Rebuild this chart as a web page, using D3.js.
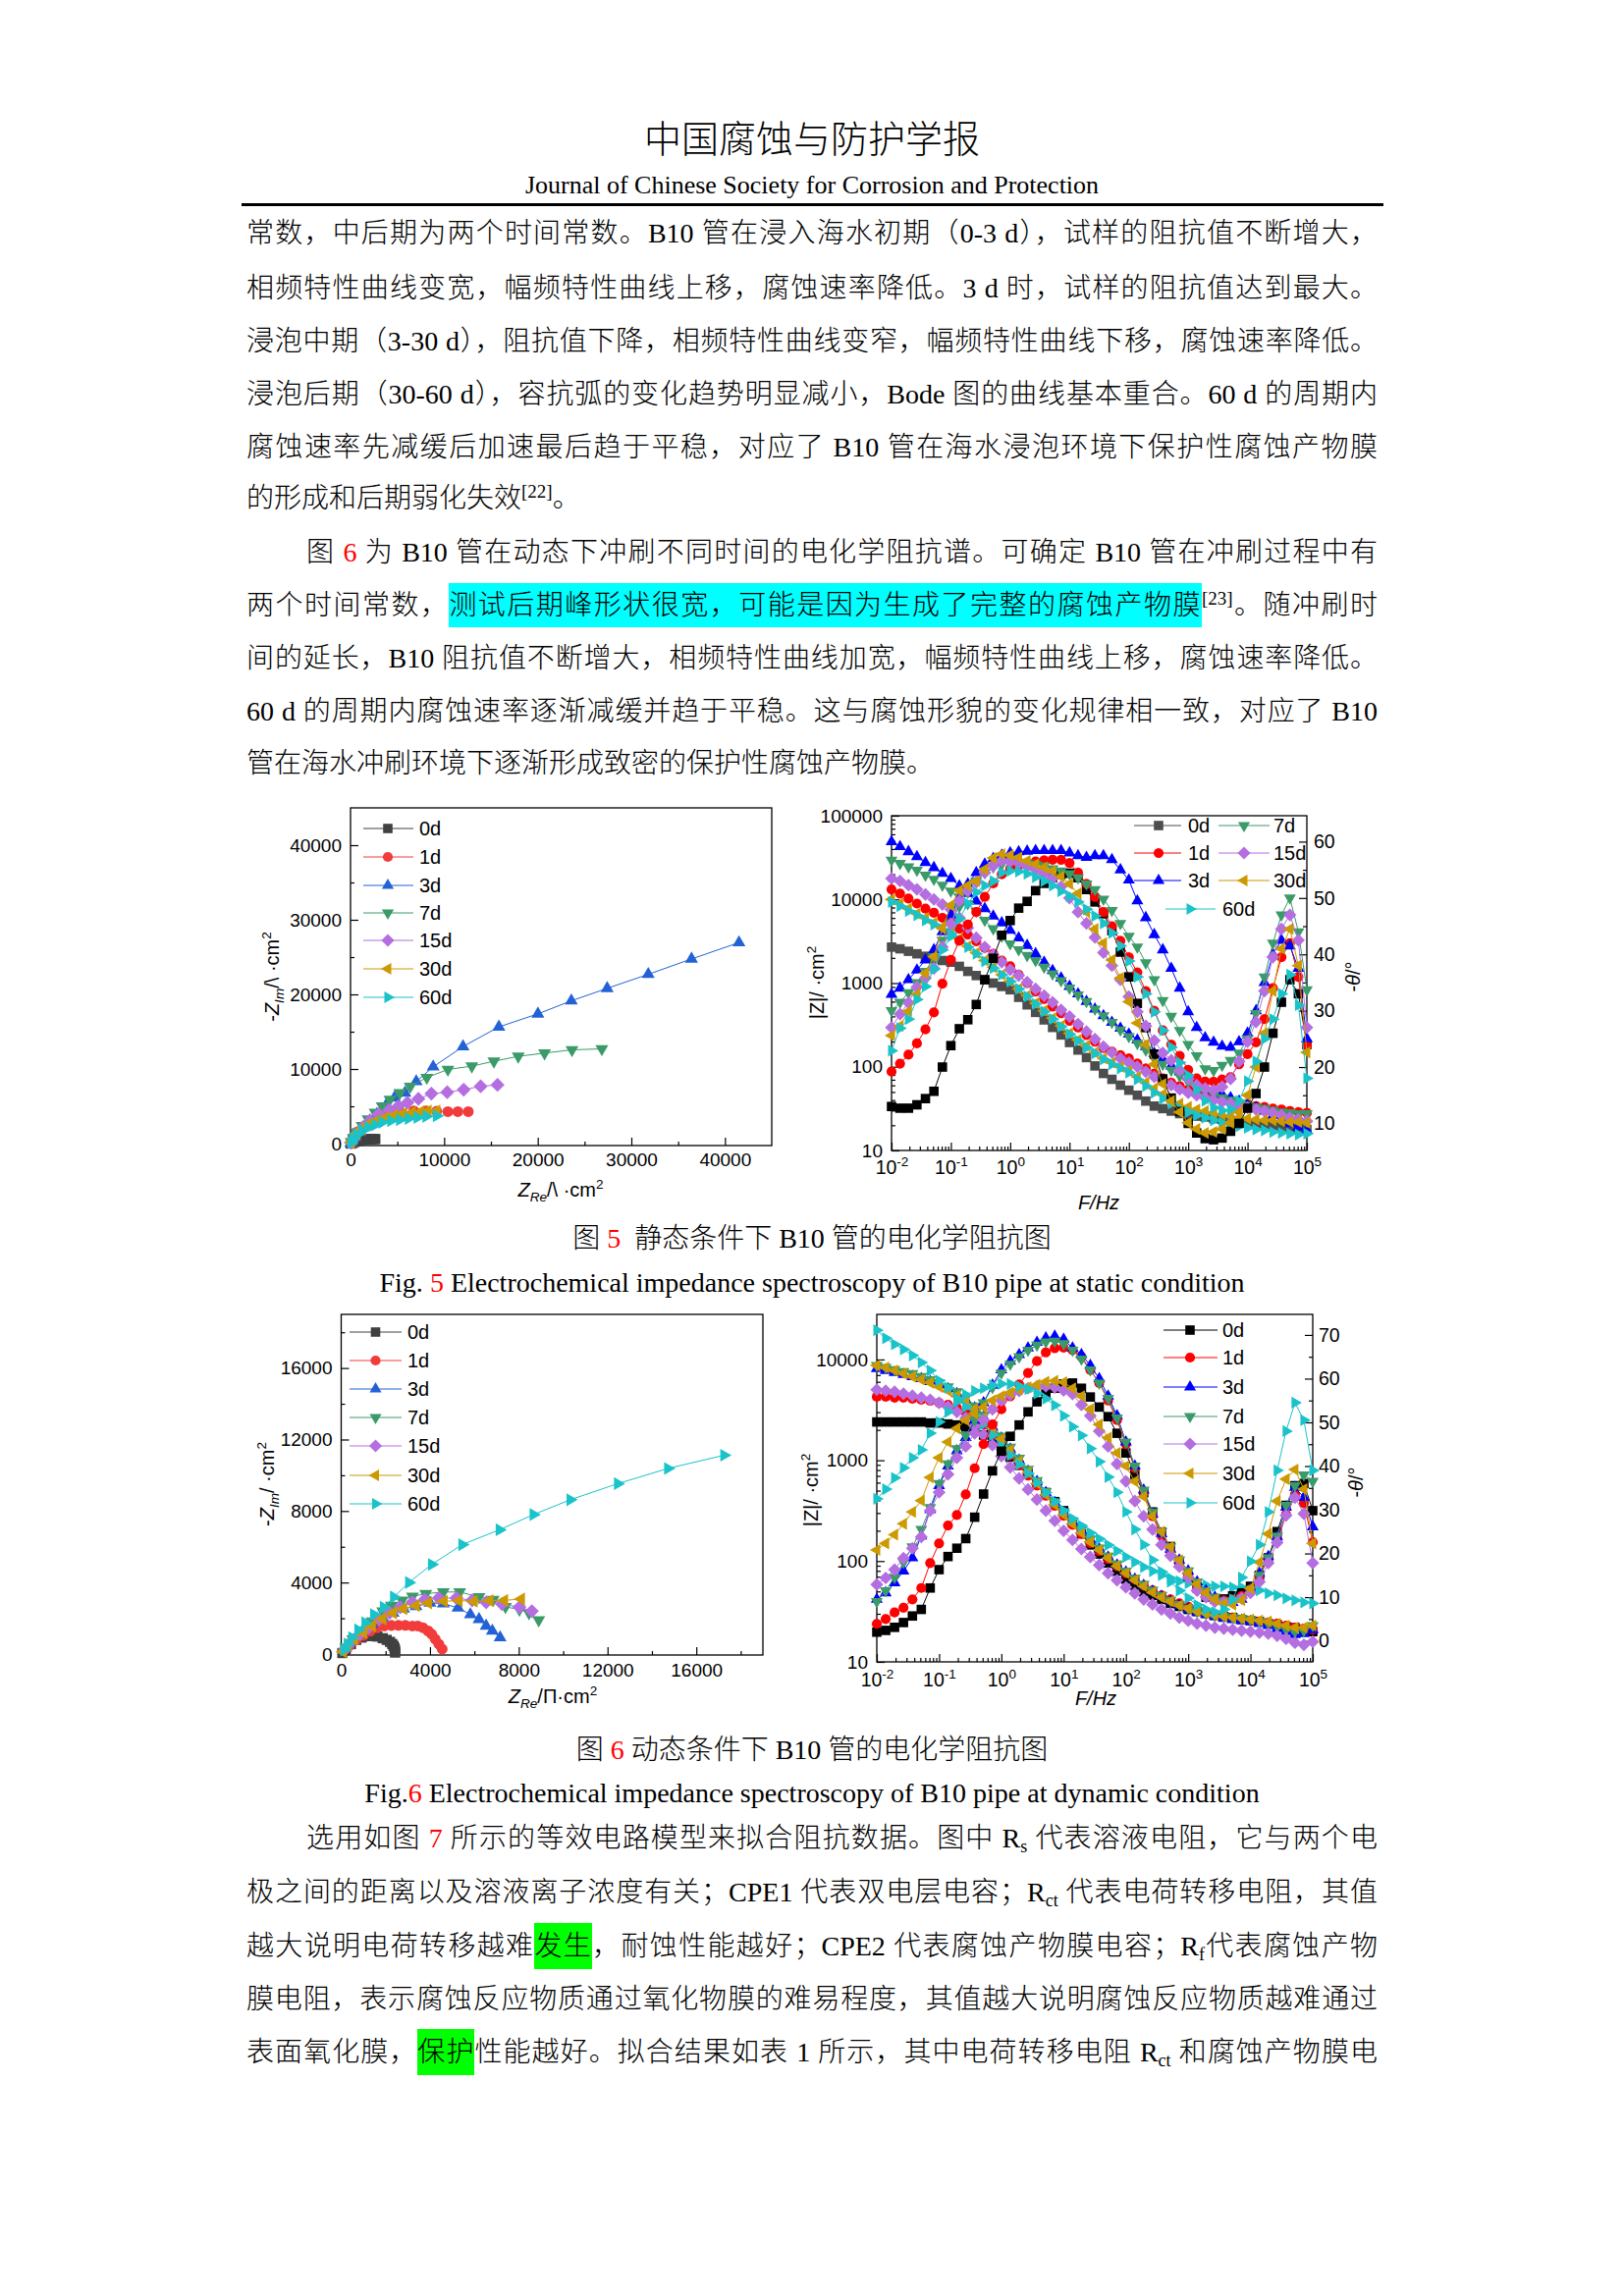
<!DOCTYPE html>
<html>
<head>
<meta charset="utf-8">
<script src="https://cdn.jsdelivr.net/npm/d3@7/dist/d3.min.js"></script>
<style>
  html, body { margin: 0; padding: 0; background: #fff; }
  #page { position: relative; width: 1654px; height: 2339px; overflow: hidden; background: #fff; }
  #page svg { position: absolute; left: 0; top: 0; }
  .ln { position: absolute; left: 251px; width: 1152px; height: 40px; line-height: 40px;
        font-size: 28px; font-family: "Liberation Serif", "Noto Sans CJK SC", serif; font-weight: 300;
        color: #000; text-align: justify; text-align-last: justify; }
  .ln.ind { left: 312px; width: 1091px; }
  .ln.last { text-align-last: left; }
  .cap { position: absolute; left: 0; width: 1654px; height: 40px; line-height: 40px; text-align: center;
         font-size: 28px; font-family: "Liberation Serif", "Noto Sans CJK SC", serif; font-weight: 300; color: #000; }
  .red { color: #ff0000; }
  .cy { background: #00ffff; padding: 7px 0; }
  .gr { background: #00ff00; padding: 8px 0; }
  sup { font-size: 19px; line-height: 0; vertical-align: 10px; }
  sub { font-size: 18px; line-height: 0; vertical-align: -5px; }
</style>
</head>
<body>
<div id="page">
  <div class="cap" style="top:118px;height:48px;line-height:48px;font-size:38px;">中国腐蚀与防护学报</div>
  <div class="cap" style="top:172px;height:34px;line-height:34px;font-size:26px;">Journal of Chinese Society for Corrosion and Protection</div>
  <div style="position:absolute;left:246px;top:207px;width:1163px;height:3px;background:#000;"></div>

  <div class="ln" style="top:218px">常数，中后期为两个时间常数。B10 管在浸入海水初期（0-3 d），试样的阻抗值不断增大，</div>
  <div class="ln" style="top:274px">相频特性曲线变宽，幅频特性曲线上移，腐蚀速率降低。3 d 时，试样的阻抗值达到最大。</div>
  <div class="ln" style="top:328px">浸泡中期（3-30 d），阻抗值下降，相频特性曲线变窄，幅频特性曲线下移，腐蚀速率降低。</div>
  <div class="ln" style="top:382px">浸泡后期（30-60 d），容抗弧的变化趋势明显减小，Bode 图的曲线基本重合。60 d 的周期内</div>
  <div class="ln" style="top:436px">腐蚀速率先减缓后加速最后趋于平稳，对应了 B10 管在海水浸泡环境下保护性腐蚀产物膜</div>
  <div class="ln last" style="top:488px">的形成和后期弱化失效<sup>[22]</sup>。</div>

  <div class="ln ind" style="top:543px">图 <span class="red">6</span> 为 B10 管在动态下冲刷不同时间的电化学阻抗谱。可确定 B10 管在冲刷过程中有</div>
  <div class="ln" style="top:597px">两个时间常数，<span class="cy">测试后期峰形状很宽，可能是因为生成了完整的腐蚀产物膜</span><sup>[23]</sup>。随冲刷时</div>
  <div class="ln" style="top:651px">间的延长，B10 阻抗值不断增大，相频特性曲线加宽，幅频特性曲线上移，腐蚀速率降低。</div>
  <div class="ln" style="top:705px">60 d 的周期内腐蚀速率逐渐减缓并趋于平稳。这与腐蚀形貌的变化规律相一致，对应了 B10</div>
  <div class="ln last" style="top:758px">管在海水冲刷环境下逐渐形成致密的保护性腐蚀产物膜。</div>

  <div class="cap" style="top:1242px">图 <span class="red">5</span>&nbsp; 静态条件下 B10 管的电化学阻抗图</div>
  <div class="cap" style="top:1287px">Fig. <span class="red">5</span> Electrochemical impedance spectroscopy of B10 pipe at static condition</div>
  <div class="cap" style="top:1763px">图 <span class="red">6</span> 动态条件下 B10 管的电化学阻抗图</div>
  <div class="cap" style="top:1807px">Fig.<span class="red">6</span> Electrochemical impedance spectroscopy of B10 pipe at dynamic condition</div>

  <div class="ln ind" style="top:1853px">选用如图 <span class="red">7</span> 所示的等效电路模型来拟合阻抗数据。图中 R<sub>s</sub> 代表溶液电阻，它与两个电</div>
  <div class="ln" style="top:1908px">极之间的距离以及溶液离子浓度有关；CPE1 代表双电层电容；R<sub>ct</sub> 代表电荷转移电阻，其值</div>
  <div class="ln" style="top:1963px">越大说明电荷转移越难<span class="gr">发生</span>，耐蚀性能越好；CPE2 代表腐蚀产物膜电容；R<sub>f</sub>代表腐蚀产物</div>
  <div class="ln" style="top:2017px">膜电阻，表示腐蚀反应物质通过氧化物膜的难易程度，其值越大说明腐蚀反应物质越难通过</div>
  <div class="ln" style="top:2071px">表面氧化膜，<span class="gr">保护</span>性能越好。拟合结果如表 1 所示，其中电荷转移电阻 R<sub>ct</sub> 和腐蚀产物膜电</div>
</div>

<script>
// ---------- data ----------
const days = ["0d", "1d", "3d", "7d", "15d", "30d", "60d"];

// measurement frequencies (Hz), 7 per decade
const freq = [0.01, 0.0139, 0.0193, 0.0268, 0.0373, 0.0518, 0.072,
  0.1, 0.139, 0.193, 0.268, 0.373, 0.518, 0.72,
  1, 1.39, 1.93, 2.68, 3.73, 5.18, 7.2,
  10, 13.9, 19.3, 26.8, 37.3, 51.8, 72,
  100, 139, 193, 268, 373, 518, 720,
  1000, 1390, 1930, 2680, 3730, 5180, 7200,
  10000, 13900, 19300, 26800, 37300, 51800, 72000,
  100000];

// Fig.5 static: Nyquist points [Z_Re, -Z_Im] per series
const staticNyq = [
  [[20,5],[60,25],[130,70],[240,130],[400,210],[620,300],[880,390],[1150,470],[1420,530],[1700,575],[1980,600],[2250,612],[2480,612],[2650,608]],
  [[30,60],[75,300],[260,870],[680,1530],[1310,2190],[2070,2850],[2930,3370],[3940,3940],[5260,4250],[6760,4380],[8080,4380],[9200,4330],[10400,4290],[11460,4290],[12580,4290]],
  [[30,40],[75,130],[190,440],[450,880],[940,1530],[1500,2190],[2070,3070],[2820,3940],[3760,5040],[4690,6130],[5820,6790],[7020,8320],[8830,10290],[12020,13010],[15850,15640],[20020,17390],[23590,19140],[27420,20810],[31810,22690],[36430,24750],[41500,26940]],
  [[75,220],[300,745],[680,1530],[1240,2410],[1880,3290],[2630,4160],[3380,5040],[4210,5910],[5260,6790],[6380,7670],[8150,8850],[10400,9940],[12960,10380],[15320,11040],[17920,11700],[20730,12130],[23660,12570],[26850,12700]],
  [[60,120],[190,440],[680,1310],[1310,2190],[2070,3070],[3000,3940],[4130,4510],[5100,5000],[6080,5480],[7250,6000],[8640,6700],[10330,6880],[12090,7230],[13900,7670],[15700,7880]],
  [[75,130],[300,660],[680,1310],[1240,1970],[1950,2630],[2820,3070],[3760,3500],[4690,3810],[5630,4030],[6570,4160],[7510,4290],[8260,4380],[9200,4380]],
  [[75,130],[300,660],[680,1180],[1240,1750],[1880,2190],[2630,2500],[3380,2850],[4320,3070],[5260,3200],[6200,3370],[7140,3500],[8080,3640],[9200,3720]]
];

// Fig.5 static: log10 |Z| at each frequency
const staticLogZ = [
  [3.43,3.41,3.38,3.35,3.32,3.29,3.27,3.25,3.20,3.14,3.09,3.04,3.00,2.96,2.92,2.83,2.74,2.65,2.56,2.47,2.38,2.29,2.20,2.11,2.01,1.92,1.85,1.78,1.72,1.66,1.59,1.53,1.50,1.47,1.44,1.42,1.41,1.40,1.38,1.37,1.36,1.35,1.33,1.32,1.31,1.30,1.28,1.27,1.26,1.25],
  [4.12,4.07,4.01,3.95,3.89,3.84,3.78,3.73,3.65,3.58,3.50,3.42,3.35,3.27,3.20,3.10,3.00,2.90,2.81,2.72,2.64,2.55,2.47,2.38,2.30,2.22,2.18,2.14,2.10,2.04,1.98,1.92,1.86,1.81,1.77,1.73,1.69,1.66,1.63,1.61,1.59,1.57,1.55,1.53,1.52,1.50,1.49,1.47,1.46,1.45],
  [4.69,4.63,4.57,4.51,4.44,4.38,4.31,4.25,4.16,4.07,3.98,3.89,3.80,3.72,3.63,3.54,3.45,3.35,3.25,3.15,3.06,2.96,2.87,2.78,2.69,2.61,2.53,2.46,2.39,2.32,2.24,2.16,2.09,2.01,1.94,1.88,1.82,1.77,1.72,1.67,1.63,1.59,1.55,1.51,1.47,1.42,1.37,1.32,1.28,1.24],
  [4.47,4.43,4.39,4.35,4.29,4.24,4.17,4.10,4.03,3.95,3.86,3.75,3.65,3.56,3.47,3.40,3.33,3.27,3.19,3.11,3.03,2.94,2.86,2.78,2.69,2.61,2.53,2.44,2.36,2.28,2.20,2.10,2.03,1.96,1.89,1.82,1.76,1.71,1.67,1.63,1.60,1.57,1.54,1.52,1.50,1.48,1.46,1.45,1.44,1.44],
  [4.25,4.22,4.17,4.12,4.06,4.00,3.94,3.88,3.78,3.66,3.54,3.43,3.34,3.25,3.16,3.09,3.01,2.93,2.85,2.77,2.68,2.60,2.51,2.42,2.33,2.24,2.17,2.10,2.05,2.00,1.94,1.88,1.83,1.78,1.73,1.69,1.66,1.63,1.60,1.58,1.56,1.53,1.51,1.49,1.47,1.45,1.42,1.39,1.37,1.35],
  [4.00,3.95,3.89,3.83,3.78,3.72,3.67,3.61,3.53,3.44,3.36,3.27,3.19,3.10,3.02,2.93,2.85,2.76,2.67,2.58,2.49,2.40,2.32,2.25,2.17,2.10,2.05,2.00,1.95,1.88,1.81,1.74,1.67,1.61,1.56,1.52,1.49,1.47,1.45,1.43,1.41,1.39,1.38,1.37,1.36,1.36,1.35,1.34,1.34,1.33],
  [3.97,3.92,3.86,3.81,3.75,3.70,3.64,3.59,3.51,3.43,3.35,3.26,3.18,3.10,3.02,2.93,2.84,2.75,2.66,2.57,2.48,2.39,2.31,2.23,2.16,2.09,2.03,1.98,1.93,1.85,1.77,1.69,1.62,1.56,1.50,1.46,1.42,1.39,1.36,1.33,1.31,1.29,1.27,1.25,1.24,1.22,1.21,1.20,1.19,1.20]
];

// Fig.5 static: -theta (degrees) at each frequency
const staticPhase = [
  [13.0,12.7,12.7,13.3,14.4,15.7,20.0,23.8,26.8,28.4,31.1,35.5,39.3,43.4,46.0,48.2,49.4,51.3,52.6,53.6,54.2,54.4,53.6,51.5,49.3,47.2,44.2,40.4,36.0,31.3,27.0,22.3,17.9,14.5,12.1,10.0,8.3,7.3,7.1,7.4,8.6,10.0,12.7,15.3,20.0,26.0,31.5,35.5,33.0,24.0],
  [19.2,20.6,22.2,24.2,26.7,29.7,34.8,39.0,42.4,45.3,47.5,50.2,52.6,54.2,55.2,55.8,56.2,56.5,56.7,56.8,56.8,56.2,54.5,52.5,50.2,47.5,45.0,42.4,39.5,36.8,33.5,30.0,26.5,24.0,22.0,19.5,18.0,17.4,17.4,17.8,18.2,20.5,22.3,24.4,28.5,34.0,39.5,42.0,36.0,23.8],
  [32.9,34.0,35.5,37.2,39.0,40.8,44.0,47.0,50.0,52.5,54.5,56.0,57.0,57.6,58.0,58.2,58.3,58.4,58.4,58.4,58.4,58.0,57.5,57.2,57.5,57.5,56.8,55.0,53.2,49.5,46.5,43.5,40.8,37.5,34.0,29.8,27.0,25.2,24.4,23.7,23.5,24.5,26.0,30.0,35.0,40.0,42.5,41.5,37.5,25.0],
  [30.0,31.5,33.2,35.0,37.0,39.5,42.5,45.5,48.5,51.0,53.0,54.5,55.5,56.0,56.3,56.3,56.2,56.0,55.7,55.2,54.8,54.3,53.6,52.5,51.5,49.8,47.8,45.5,43.2,41.3,38.5,35.5,31.8,29.0,26.5,24.0,22.0,19.7,19.4,20.3,21.2,22.5,25.0,29.5,36.0,42.0,47.0,50.0,44.0,33.7],
  [27.0,29.4,31.4,34.2,35.8,37.5,41.3,45.4,49.5,51.3,52.8,54.5,55.7,56.6,56.5,56.2,55.6,55.0,54.3,53.5,52.0,50.0,47.5,45.5,43.0,40.3,38.0,35.5,32.5,29.8,27.3,24.7,22.5,21.2,19.4,17.9,16.8,16.2,15.9,16.5,17.9,21.0,24.5,28.0,33.5,39.5,44.5,47.0,42.5,27.0],
  [25.6,27.3,29.9,32.9,36.7,39.6,44.6,48.7,51.3,52.2,53.0,55.1,57.1,57.8,57.6,57.2,56.6,56.0,55.4,54.8,53.8,52.5,50.8,47.5,44.5,42.0,39.0,35.8,31.6,27.8,24.0,20.5,17.0,14.0,12.0,10.1,9.0,8.3,8.5,9.0,10.1,12.0,15.0,20.0,26.0,33.5,41.0,44.5,38.0,22.6],
  [22.9,26.9,28.5,32.0,34.3,37.4,40.8,43.2,46.3,49.0,51.0,52.2,53.0,54.5,54.8,54.7,54.3,53.7,53.0,52.2,51.2,50.3,49.3,48.0,46.8,45.5,43.8,41.5,38.8,36.0,33.0,29.8,26.5,23.5,20.8,18.5,16.0,14.0,12.8,12.3,12.5,14.0,17.5,21.0,25.0,28.5,33.0,36.4,31.0,18.0]
];

// Fig.6 dynamic: Nyquist points [Z_Re, -Z_Im]
const dynamicNyq = [
  [[50,55],[205,277],[440,553],[680,790],[920,920],[1150,1000],[1390,1010],[1630,977],[1870,885],[2050,790],[2200,680],[2300,560],[2360,450],[2400,340],[2420,240],[2430,150],[2430,80]],
  [[126,184],[360,460],[680,790],[1000,1050],[1310,1290],[1630,1470],[1950,1570],[2260,1600],[2580,1600],[2890,1600],[3210,1570],[3450,1570],[3680,1470],[3920,1290],[4080,1110],[4240,830],[4400,553],[4550,277]],
  [[205,313],[520,740],[920,1200],[1390,1660],[1870,2030],[2340,2300],[2810,2530],[3370,2670],[4000,2860],[4600,2820],[5260,2580],[5820,2210],[6210,1940],[6530,1570],[6810,1290],[7160,920]],
  [[205,370],[520,830],[920,1290],[1390,1840],[1870,2400],[2260,2710],[2740,3000],[3210,3230],[3810,3370],[4600,3470],[5340,3470],[6210,3190],[6850,3040],[7400,2640],[8030,2490],[8460,2300],[8900,1900]],
  [[175,277],[440,645],[840,1110],[1230,1470],[1710,1940],[2180,2300],[2660,2620],[3210,2890],[3760,3040],[4400,3130],[5190,3130],[5900,3000],[6530,2890],[7240,2800],[8030,2620],[8590,2400]],
  [[80,130],[285,460],[600,830],[1000,1200],[1390,1570],[1870,1970],[2340,2300],[2810,2530],[3370,2710],[3920,2860],[4630,2950],[5300,2990],[5980,2950],[6690,2990],[7350,3000],[8110,3080]],
  [[126,240],[285,553],[490,920],[760,1350],[1080,1750],[1470,2210],[1910,2620],[2370,3190],[3050,4000],[4080,5010],[5450,6120],[7130,6950],[8660,7800],[10320,8630],[12460,9530],[14720,10380],[17250,11120]]
];

// Fig.6 dynamic: log10 |Z|
const dynamicLogZ = [
  [3.38,3.38,3.38,3.38,3.38,3.38,3.37,3.37,3.36,3.35,3.33,3.30,3.25,3.19,3.11,3.03,2.95,2.87,2.78,2.68,2.59,2.50,2.38,2.27,2.16,2.07,1.98,1.90,1.82,1.76,1.70,1.66,1.62,1.58,1.55,1.52,1.50,1.48,1.46,1.45,1.44,1.42,1.41,1.40,1.38,1.37,1.35,1.34,1.32,1.30],
  [3.63,3.63,3.62,3.62,3.61,3.60,3.59,3.57,3.55,3.52,3.48,3.42,3.35,3.25,3.15,3.05,2.95,2.85,2.75,2.65,2.55,2.45,2.36,2.27,2.18,2.10,2.02,1.95,1.88,1.82,1.76,1.71,1.66,1.62,1.58,1.55,1.52,1.49,1.47,1.45,1.44,1.42,1.41,1.40,1.39,1.38,1.36,1.34,1.33,1.32],
  [3.91,3.89,3.87,3.85,3.83,3.81,3.78,3.75,3.71,3.66,3.60,3.52,3.43,3.33,3.22,3.11,3.00,2.89,2.79,2.68,2.58,2.48,2.39,2.30,2.21,2.12,2.04,1.96,1.89,1.82,1.76,1.70,1.65,1.60,1.56,1.52,1.49,1.47,1.45,1.43,1.42,1.41,1.40,1.38,1.36,1.33,1.30,1.27,1.28,1.32],
  [3.94,3.92,3.90,3.88,3.86,3.83,3.80,3.77,3.73,3.68,3.62,3.54,3.45,3.35,3.24,3.13,3.02,2.91,2.80,2.69,2.59,2.49,2.40,2.31,2.22,2.13,2.05,1.97,1.90,1.83,1.77,1.71,1.66,1.61,1.57,1.53,1.50,1.48,1.46,1.45,1.44,1.43,1.42,1.40,1.38,1.35,1.32,1.30,1.31,1.36],
  [3.70,3.69,3.68,3.66,3.64,3.62,3.60,3.57,3.53,3.48,3.42,3.34,3.25,3.15,3.04,2.93,2.82,2.71,2.61,2.50,2.40,2.30,2.21,2.12,2.04,1.96,1.88,1.81,1.74,1.68,1.62,1.57,1.52,1.48,1.44,1.41,1.38,1.36,1.34,1.33,1.32,1.31,1.30,1.29,1.28,1.26,1.23,1.19,1.17,1.20],
  [3.94,3.92,3.89,3.86,3.83,3.80,3.77,3.73,3.69,3.64,3.58,3.51,3.42,3.32,3.21,3.10,2.99,2.88,2.77,2.66,2.56,2.46,2.37,2.28,2.19,2.11,2.03,1.95,1.88,1.81,1.75,1.69,1.64,1.60,1.56,1.53,1.50,1.48,1.46,1.45,1.44,1.43,1.42,1.41,1.40,1.38,1.36,1.34,1.34,1.36],
  [4.29,4.21,4.15,4.10,4.04,3.97,3.89,3.79,3.72,3.61,3.53,3.45,3.36,3.25,3.14,3.05,2.96,2.87,2.78,2.68,2.59,2.50,2.42,2.35,2.28,2.22,2.16,2.10,2.04,1.99,1.94,1.90,1.86,1.83,1.80,1.78,1.77,1.76,1.75,1.75,1.74,1.74,1.73,1.71,1.68,1.66,1.63,1.61,1.59,1.58]
];

// Fig.6 dynamic: -theta (degrees)
const dynamicPhase = [
  [2.0,2.4,3.1,4.2,5.7,7.2,12.1,16.3,19.3,21.2,23.4,28.3,33.6,38.9,43.4,46.8,49.4,52.4,54.7,56.5,57.8,58.8,59.0,57.8,55.8,53.5,51.3,47.5,43.0,38.1,33.9,29.5,24.9,21.6,18.2,14.8,12.1,10.0,9.5,9.6,10.3,11.0,12.5,15.0,19.0,25.0,31.0,35.5,36.0,29.8],
  [3.9,5.0,6.5,7.6,9.5,12.1,17.8,22.3,26.4,28.8,33.5,39.5,45.0,49.5,53.0,56.0,58.7,61.3,64.0,66.0,67.0,67.1,66.5,65.0,62.0,59.0,55.0,50.5,45.0,39.5,34.0,28.5,24.0,20.5,17.5,15.0,12.8,11.0,9.8,9.3,9.5,10.3,11.8,14.5,19.0,23.5,29.0,33.5,31.5,22.6],
  [9.5,11.0,13.3,16.0,19.0,24.0,30.0,35.5,40.0,43.5,46.5,50.5,54.5,58.5,62.0,64.0,65.5,67.0,68.3,69.3,69.7,69.0,67.0,65.5,63.0,60.0,56.0,51.5,45.5,40.0,34.5,29.0,24.5,21.0,18.5,16.0,13.5,11.5,10.0,9.0,8.8,9.5,11.8,15.5,19.3,23.8,30.6,35.1,32.8,26.1],
  [9.0,11.5,14.5,18.0,21.5,25.5,30.5,36.0,40.5,44.0,47.0,50.5,54.5,58.0,61.3,63.3,65.0,66.5,67.7,68.4,68.6,68.0,66.5,64.5,62.0,59.0,55.5,51.0,45.5,40.0,34.5,29.5,25.0,21.5,18.5,16.0,13.5,11.5,10.0,9.2,9.0,9.8,11.8,15.0,19.0,24.0,31.0,35.5,38.0,36.5],
  [12.9,14.4,16.3,18.9,21.2,23.8,29.8,34.0,38.1,41.9,44.5,47.5,50.5,53.0,55.0,56.3,57.2,57.8,58.2,58.3,58.0,57.3,56.5,54.0,51.5,48.0,44.5,40.5,36.5,32.0,28.5,25.5,22.0,19.5,17.0,14.5,11.5,10.0,9.0,8.8,9.0,9.8,11.0,13.5,17.8,22.5,28.7,32.8,29.1,17.8],
  [20.8,22.3,24.3,26.8,29.5,32.1,37.4,41.9,45.5,48.6,50.5,52.0,53.5,55.0,56.0,56.8,57.5,58.0,58.6,59.3,59.5,59.2,57.8,56.0,53.0,49.5,46.5,43.0,40.0,36.5,33.0,28.5,25.0,21.5,18.5,15.5,13.0,11.0,9.5,8.5,8.3,9.3,12.0,18.0,24.5,32.0,37.0,39.2,34.7,22.3],
  [32.5,34.7,37.3,39.6,41.9,43.7,47.5,50.1,52.4,54.7,56.3,57.2,57.8,58.5,58.8,58.8,58.3,57.6,56.6,55.4,53.9,51.5,49.0,47.0,44.0,41.0,37.5,34.0,29.5,25.5,22.0,18.5,15.8,13.5,11.5,9.8,8.2,7.2,6.6,7.2,9.5,14.5,18.2,22.0,29.5,39.0,48.0,54.5,50.5,39.0]
];

// ---------- styles ----------
const shapes = ["square", "circle", "up", "down", "diamond", "left", "right"];
const bodeColors = ["#000000", "#ff0000", "#0000ff", "#3a9a68", "#b46ee0", "#cc9900", "#19c3c9"];
const nyqColors = ["#404040", "#f23b3b", "#2262d6", "#3a9a68", "#b46ee0", "#cc9900", "#19c3c9"];
const FONT = "'Liberation Sans', Arial, Helvetica, sans-serif";
const markSize = { square: 9.6, circle: 10.2, up: 12.2, down: 12.2, left: 12.2, right: 12.2, diamond: 11 };

const svg = d3.select("#page").append("svg").attr("width", 1654).attr("height", 2339);

function shapePath(shape, cx, cy, k) {
  const s = markSize[shape] * k;
  const h = s * Math.sqrt(3) / 2;
  switch (shape) {
    case "square": return `M${cx - s / 2},${cy - s / 2}h${s}v${s}h${-s}Z`;
    case "circle": { const r = s / 2; return `M${cx - r},${cy}a${r},${r} 0 1,0 ${2 * r},0a${r},${r} 0 1,0 ${-2 * r},0Z`; }
    case "up": return `M${cx},${cy - 2 * h / 3}L${cx + s / 2},${cy + h / 3}L${cx - s / 2},${cy + h / 3}Z`;
    case "down": return `M${cx},${cy + 2 * h / 3}L${cx + s / 2},${cy - h / 3}L${cx - s / 2},${cy - h / 3}Z`;
    case "left": return `M${cx - 2 * h / 3},${cy}L${cx + h / 3},${cy - s / 2}L${cx + h / 3},${cy + s / 2}Z`;
    case "right": return `M${cx + 2 * h / 3},${cy}L${cx - h / 3},${cy - s / 2}L${cx - h / 3},${cy + s / 2}Z`;
    case "diamond": { const d = s * 0.6; return `M${cx},${cy - d}L${cx + d},${cy}L${cx},${cy + d}L${cx - d},${cy}Z`; }
  }
}

function drawSeries(g, pts, color, shape, k) {
  g.append("path").attr("d", d3.line()(pts)).attr("fill", "none")
    .attr("stroke", color).attr("stroke-width", 1);
  g.append("g").selectAll("path").data(pts).join("path")
    .attr("d", p => shapePath(shape, p[0], p[1], k)).attr("fill", color);
}

function styleAxis(sel, size) {
  sel.attr("font-family", FONT).attr("font-size", size || 19);
  sel.select(".domain").remove();
  sel.selectAll(".tick line").attr("stroke", "#000").attr("stroke-width", 1.2);
  sel.selectAll(".tick text").attr("fill", "#000");
}

function frame(g, l, t, r, b) {
  g.append("rect").attr("x", l).attr("y", t).attr("width", r - l).attr("height", b - t)
    .attr("fill", "none").attr("stroke", "#000").attr("stroke-width", 1.3);
}

function richText(g, x, y, parts, rot, size) {
  const t = g.append("text").attr("text-anchor", "middle").attr("font-family", FONT)
    .attr("font-size", size).attr("fill", "#000")
    .attr("transform", `translate(${x},${y}) rotate(${rot || 0})`);
  let shift = 0;
  parts.forEach(p => {
    const target = p.sub ? 5 : p.sup ? -8 : 0;
    const ts = t.append("tspan").attr("dy", target - shift).text(p.t);
    shift = target;
    if (p.i) ts.attr("font-style", "italic");
    if (p.sub || p.sup) ts.attr("font-size", size * 0.68);
  });
}

function legendItem(g, x1, x2, xm, xt, y, color, shape, label, k) {
  g.append("line").attr("x1", x1).attr("x2", x2).attr("y1", y).attr("y2", y)
    .attr("stroke", color).attr("stroke-width", 1);
  g.append("path").attr("d", shapePath(shape, xm, y, k)).attr("fill", color);
  g.append("text").attr("x", xt).attr("y", y).attr("dy", "0.36em").attr("font-family", FONT)
    .attr("font-size", 20).attr("fill", "#000").text(label);
}

// ---------- Nyquist ----------
function drawNyquist(o) {
  const g = svg.append("g");
  const x = d3.scaleLinear().domain([0, o.max]).range([o.l, o.r]);
  const y = d3.scaleLinear().domain([o.yMin, o.max]).range([o.b, o.t]);

  g.append("g").attr("transform", `translate(0,${o.b})`)
    .call(d3.axisBottom(x).tickValues(o.minor).tickSize(-4).tickFormat(""))
    .call(styleAxis);
  g.append("g").attr("transform", `translate(0,${o.b})`)
    .call(d3.axisBottom(x).tickValues(o.major).tickSizeInner(-8).tickSizeOuter(0)
      .tickPadding(o.xPad).tickFormat(d3.format("d")))
    .call(styleAxis);
  g.append("g").attr("transform", `translate(${o.l},0)`)
    .call(d3.axisLeft(y).tickValues(o.minor).tickSize(-4).tickFormat(""))
    .call(styleAxis);
  g.append("g").attr("transform", `translate(${o.l},0)`)
    .call(d3.axisLeft(y).tickValues(o.major).tickSizeInner(-8).tickSizeOuter(0)
      .tickPadding(9).tickFormat(d3.format("d")))
    .call(styleAxis);
  frame(g, o.l, o.t, o.r, o.b);

  o.data.forEach((ser, i) => {
    drawSeries(g, ser.map(p => [x(p[0]), y(p[1])]), nyqColors[i], shapes[i], 1.08);
  });

  days.forEach((d, i) => {
    legendItem(g, o.leg.x1, o.leg.x2, o.leg.xm, o.leg.xt, o.leg.rows[i], nyqColors[i], shapes[i], d, 1.0);
  });

  richText(g, o.xTitle[0], o.xTitle[1], o.xTitleParts, 0, 20);
  richText(g, o.yTitle[0], o.yTitle[1], o.yTitleParts, -90, 20);
}

// ---------- Bode ----------
function drawBode(o) {
  const g = svg.append("g");
  const x = d3.scaleLog().domain([0.01, 100000]).range([o.l, o.r]);
  const yZ = d3.scaleLog().domain(o.zDom).range([o.b, o.t]);
  const yT = d3.scaleLinear().domain(o.thDom).range([o.b, o.t]);
  const isDecade = v => Math.abs(Math.log10(v) - Math.round(Math.log10(v))) < 1e-6;

  const xTicks = x.ticks();
  const zTicks = yZ.ticks();

  g.append("g").attr("transform", `translate(0,${o.b})`)
    .call(d3.axisBottom(x).tickValues(xTicks.filter(v => !isDecade(v))).tickSize(-4).tickFormat(""))
    .call(styleAxis);
  const xa = g.append("g").attr("transform", `translate(0,${o.b})`)
    .call(d3.axisBottom(x).tickValues(xTicks.filter(isDecade)).tickSizeInner(-8).tickSizeOuter(0)
      .tickPadding(o.xPad))
    .call(styleAxis, 19.5);
  xa.selectAll(".tick text").each(function (d) {
    const e = Math.round(Math.log10(d));
    const t = d3.select(this);
    t.text("");
    t.append("tspan").text("10");
    t.append("tspan").attr("dy", "-0.55em").attr("font-size", 13.5).text(e < 0 ? "-" + (-e) : String(e));
  });

  g.append("g").attr("transform", `translate(${o.l},0)`)
    .call(d3.axisLeft(yZ).tickValues(zTicks.filter(v => !isDecade(v))).tickSize(-4).tickFormat(""))
    .call(styleAxis);
  g.append("g").attr("transform", `translate(${o.l},0)`)
    .call(d3.axisLeft(yZ).tickValues(zTicks.filter(isDecade)).tickSizeInner(-8).tickSizeOuter(0)
      .tickPadding(9).tickFormat(d3.format("d")))
    .call(styleAxis);

  g.append("g").attr("transform", `translate(${o.r},0)`)
    .call(d3.axisRight(yT).tickValues(o.thMinor).tickSize(-4).tickFormat(""))
    .call(styleAxis);
  g.append("g").attr("transform", `translate(${o.r},0)`)
    .call(d3.axisRight(yT).tickValues(o.thMajor).tickSizeInner(-8).tickSizeOuter(0)
      .tickPadding(o.rPad).tickFormat(d3.format("d")))
    .call(styleAxis, 19.5);
  frame(g, o.l, o.t, o.r, o.b);

  // |Z| curves
  o.logZ.forEach((ser, i) => {
    const pts = freq.map((f, k) => [x(f), yZ(Math.pow(10, ser[k]))]);
    drawSeries(g, pts, i === 0 ? o.zeroZColor : bodeColors[i], shapes[i], 1);
  });
  // phase curves
  o.phase.forEach((ser, i) => {
    const pts = freq.map((f, k) => [x(f), yT(ser[k])]);
    drawSeries(g, pts, bodeColors[i], shapes[i], 1);
  });

  o.leg.forEach((it, i) => {
    legendItem(g, it[0], it[1], it[2], it[3], it[4], i === 0 ? o.zeroZColor : bodeColors[i], shapes[i], days[i], 1.0);
  });

  richText(g, o.fTitle[0], o.fTitle[1], [{ t: "F", i: 1 }, { t: "/Hz", i: 1 }], 0, 20);
  richText(g, o.zTitle[0], o.zTitle[1], [{ t: "|Z|/ ·cm" }, { t: "2", sup: 1 }], -90, 20);
  richText(g, o.thTitle[0], o.thTitle[1], [{ t: "-" }, { t: "θ", i: 1 }, { t: "/°" }], -90, 20);
}

// ---------- Fig.5 ----------
drawNyquist({
  l: 357, r: 786, t: 823, b: 1167, max: 45000, yMin: -260,
  major: [0, 10000, 20000, 30000, 40000], minor: [5000, 15000, 25000, 35000],
  xPad: 8, data: staticNyq,
  leg: { x1: 370, x2: 421, xm: 395, xt: 427, rows: [844, 873, 902, 930, 958, 987, 1016] },
  xTitle: [571, 1219], xTitleParts: [{ t: "Z", i: 1 }, { t: "Re", i: 1, sub: 1 }, { t: "/\\  ·cm" }, { t: "2", sup: 1 }],
  yTitle: [284, 995], yTitleParts: [{ t: "-" }, { t: "Z", i: 1 }, { t: "Im", i: 1, sub: 1 }, { t: "/\\  ·cm" }, { t: "2", sup: 1 }]
});

drawBode({
  l: 908, r: 1331, t: 831, b: 1172, zDom: [10, 100000], thDom: [5.2, 64.6],
  thMajor: [10, 20, 30, 40, 50, 60], thMinor: [15, 25, 35, 45, 55],
  xPad: 10, rPad: 7, logZ: staticLogZ, phase: staticPhase, zeroZColor: "#4d4d4d",
  leg: [
    [1155, 1203, 1180, 1210, 841], [1155, 1203, 1180, 1210, 869], [1155, 1203, 1180, 1210, 897],
    [1241, 1293, 1267, 1297, 841], [1241, 1293, 1267, 1297, 869], [1241, 1293, 1267, 1297, 897],
    [1187, 1238, 1212, 1245, 926]
  ],
  fTitle: [1119, 1232], zTitle: [839, 1001], thTitle: [1385, 995]
});

// ---------- Fig.6 ----------
drawNyquist({
  l: 347.5, r: 777, t: 1339, b: 1686, max: 19000, yMin: -55,
  major: [0, 4000, 8000, 12000, 16000], minor: [2000, 6000, 10000, 14000, 18000],
  xPad: 9, data: dynamicNyq,
  leg: { x1: 356, x2: 409, xm: 382.5, xt: 415, rows: [1357, 1386, 1415, 1444, 1473, 1503, 1532] },
  xTitle: [563, 1735], xTitleParts: [{ t: "Z", i: 1 }, { t: "Re", i: 1, sub: 1 }, { t: "/Π·cm" }, { t: "2", sup: 1 }],
  yTitle: [279, 1512], yTitleParts: [{ t: "-" }, { t: "Z", i: 1 }, { t: "Im", i: 1, sub: 1 }, { t: "/  ·cm" }, { t: "2", sup: 1 }]
});

drawBode({
  l: 893, r: 1337, t: 1339, b: 1693, zDom: [10, 28000], thDom: [-4.8, 74.7],
  thMajor: [0, 10, 20, 30, 40, 50, 60, 70], thMinor: [5, 15, 25, 35, 45, 55, 65],
  xPad: 11, rPad: 6, logZ: dynamicLogZ, phase: dynamicPhase, zeroZColor: "#000000",
  leg: [
    [1185, 1240, 1212, 1245, 1355], [1185, 1240, 1212, 1245, 1383], [1185, 1240, 1212, 1245, 1413],
    [1185, 1240, 1212, 1245, 1443], [1185, 1240, 1212, 1245, 1471], [1185, 1240, 1212, 1245, 1501],
    [1185, 1240, 1212, 1245, 1531]
  ],
  fTitle: [1116, 1737], zTitle: [833, 1518], thTitle: [1388, 1510]
});
</script>
</body>
</html>
